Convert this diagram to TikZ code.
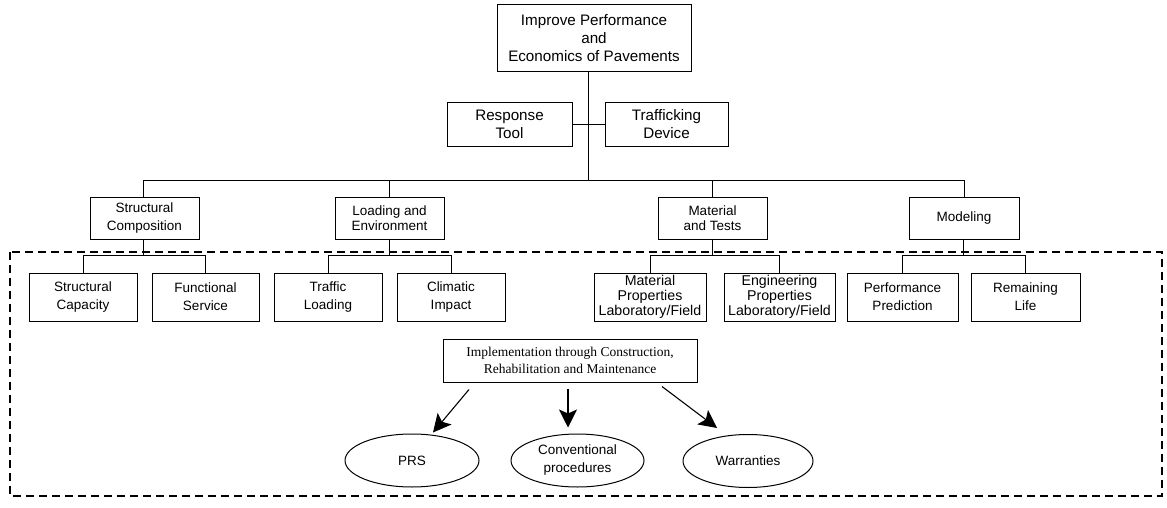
\documentclass[tikz,border=0pt]{standalone}
\usepackage{fontspec}
\setmainfont{Liberation Sans}
\newfontfamily\timesf{Liberation Serif}
\usetikzlibrary{arrows.meta,shapes.geometric}
\tikzset{
  box/.style={draw, line width=1pt, rectangle, inner sep=0pt, align=center, font=\fontsize{13.5}{18}\selectfont},
  bigbox/.style={box, font=\fontsize{15.2}{18}\selectfont},
  oval/.style={draw, line width=1pt, ellipse, inner sep=0pt, align=center, font=\fontsize{13.5}{18}\selectfont},
  link/.style={line width=1pt},
  arr/.style={line width=1.1pt, -{Stealth[length=18pt,width=18pt,inset=4pt]}},
  frame/.style={line width=1.2pt, dash pattern=on 8pt off 5pt}
}
\begin{document}
\begin{tikzpicture}[x=1pt,y=-1pt]
\useasboundingbox (0,0) rectangle (1167,508);
% dashed frame
\draw[frame] (10,252) rectangle (1162,496);
% top level
\node[bigbox, minimum width=194, minimum height=67] (top) at (594,38) {Improve Performance\\and\\Economics of Pavements};
\node[bigbox, minimum width=125, minimum height=44] (rt) at (509.5,124.5) {Response\\Tool};
\node[bigbox, minimum width=123, minimum height=44] (td) at (666.5,124.5) {Trafficking\\Device};
% second level
\node[box, minimum width=109, minimum height=42] (sc) at (144.5,218) {Structural\\Composition};
\node[box, minimum width=109, minimum height=42, font=\fontsize{13.5}{14.5}\selectfont] (le) at (389.5,218) {Loading and\\Environment};
\node[box, minimum width=109, minimum height=42, font=\fontsize{13.5}{15.5}\selectfont] (mt) at (712.5,218) {Material\\and Tests};
\node[box, minimum width=110, minimum height=42] (mod) at (964,218) {Modeling};
% third level
\node[box, minimum width=108, minimum height=48] (scap) at (83,297) {Structural\\Capacity};
\node[box, minimum width=107, minimum height=48] (fs) at (205.5,297) {Functional\\Service};
\node[box, minimum width=108, minimum height=48] (tl) at (328,297) {Traffic\\Loading};
\node[box, minimum width=108, minimum height=48] (ci) at (451,297) {Climatic\\Impact};
\node[box, minimum width=112, minimum height=48, font=\fontsize{14.2}{15}\selectfont] (mp) at (650,297) {Material\\Properties\\Laboratory/Field};
\node[box, minimum width=111, minimum height=48, font=\fontsize{14.2}{15}\selectfont] (ep) at (779.5,297) {Engineering\\Properties\\Laboratory/Field};
\node[box, minimum width=111, minimum height=48] (pp) at (902.5,297) {Performance\\Prediction};
\node[box, minimum width=109, minimum height=48] (rl) at (1025.5,297) {Remaining\\Life};
% implementation
\node[box, minimum width=254, minimum height=43, font=\timesf\fontsize{13.5}{17.5}\selectfont] (impl) at (570,360.5) {Implementation through Construction,\\Rehabilitation and Maintenance};
\node[oval, minimum width=134, minimum height=53] (prs) at (412,460.5) {PRS};
\node[oval, minimum width=133, minimum height=53] (conv) at (577.5,460.5) {Conventional\\procedures};
\node[oval, minimum width=130, minimum height=53] (war) at (748,461) {Warranties};
% trunk
\coordinate (bar) at (588,180);
\draw[link] ([xshift=-6pt]top.south) -- (bar);
\draw[link] (rt.east) -- (td.west);
\draw[link] ([xshift=-1.5pt]sc.north) |- (mod.north |- bar) -- (mod.north);
\draw[link] (le.north) -- (le.north |- bar);
\draw[link] (mt.north) -- (mt.north |- bar);
% sub-branches
\coordinate (sb) at (0,255);
\draw[link] ([xshift=-1.5pt]sc.south) -- ([xshift=-1.5pt]sc.south |- sb);
\draw[link] (scap.north) |- (fs.north |- sb) -- (fs.north);
\draw[link] (le.south) -- (le.south |- sb);
\draw[link] (tl.north) |- (ci.north |- sb) -- (ci.north);
\draw[link] (mt.south) -- (mt.south |- sb);
\draw[link] (mp.north) |- (ep.north |- sb) -- (ep.north);
\draw[link] ([xshift=-1pt]mod.south) -- ([xshift=-1pt]mod.south |- sb);
\draw[link] (pp.north) |- (rl.north |- sb) -- (rl.north);
% arrows
\draw[arr] ([shift={(-101,7)}]impl.south) -- ([shift={(21,-1)}]prs.north);
\draw[arr] ([shift={(-2,6)}]impl.south) -- ([shift={(-9.5,-6)}]conv.north);
\draw[arr] ([shift={(92,4)}]impl.south) -- ([shift={(-31,-6)}]war.north);
\end{tikzpicture}
\end{document}
